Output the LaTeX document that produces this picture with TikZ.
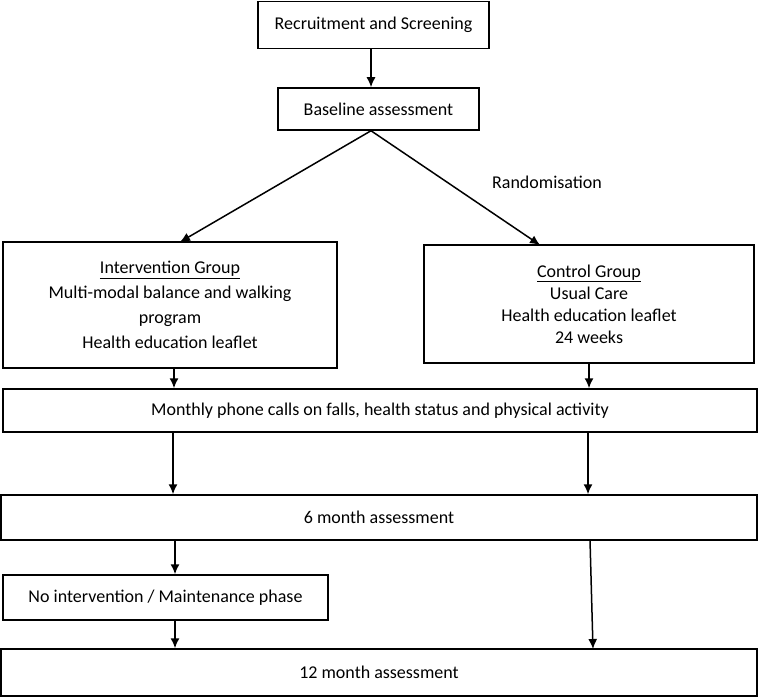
\documentclass[tikz,border=0pt]{standalone}
\usepackage{fontspec}
\setmainfont{Carlito}
\usepackage{tikz}
\usetikzlibrary{arrows.meta}

\tikzset{
	box/.style={draw, line width=1.5pt, rectangle, inner sep=0pt, align=center, font=\fontsize{18}{22}\selectfont},
	flow/.style={-{Latex[length=10pt,width=9pt]}, line width=1.5pt},
	lbl/.style={inner sep=0pt, font=\fontsize{18}{22}\selectfont}
}

\begin{document}
\begin{tikzpicture}[x=1pt, y=-1pt]
	\useasboundingbox (0,0) rectangle (759,698);
	% boxes
	\node[box, minimum width=231, minimum height=47] (recruit) at (373.5,25) {Recruitment and Screening};
	\node[box, minimum width=201, minimum height=42] (base) at (378.5,109) {Baseline assessment};
	\node[box, minimum width=334, minimum height=126] (interv) at (170,305) {\underline{Intervention Group}\\[3pt] Multi-modal balance and walking\\[3pt] program\\[3pt] Health education leaflet};
	\node[box, minimum width=330, minimum height=118] (ctrl) at (589,304) {\underline{Control Group}\\ Usual Care\\ Health education leaflet\\ 24 weeks};
	\node[box, minimum width=754, minimum height=43] (monthly) at (380,410.5) {Monthly phone calls on falls, health status and physical activity};
	\node[box, minimum width=756, minimum height=45] (six) at (379,517.5) {6 month assessment};
	\node[box, minimum width=325, minimum height=45] (noint) at (165.5,597.5) {No intervention / Maintenance phase};
	\node[box, minimum width=756, minimum height=47] (twelve) at (379,672.5) {12 month assessment};
	\node[lbl] (rand) at (547,182) {Randomisation};
	% arrow ends
	\coordinate (intin) at (180,242);
	\coordinate (ctrlin) at (540,245);
	\coordinate (sixout) at (590,540);
	\coordinate (twin) at (593,649);
	% arrows
	\draw[flow] (recruit.south -| 371,0) -- (base.north -| 371,0);
	\draw[flow] (base.south -| 371,0) -- (intin);
	\draw[flow] (base.south -| 371,0) -- (ctrlin);
	\draw[flow] (interv.south -| 174,0) -- (monthly.north -| 174,0);
	\draw[flow] (ctrl.south) -- (ctrl.south |- monthly.north);
	\draw[flow] (monthly.south -| 173,0) -- (six.north -| 173,0);
	\draw[flow] (monthly.south -| 588,0) -- (six.north -| 588,0);
	\draw[flow] (six.south -| 175,0) -- (noint.north -| 175,0);
	\draw[flow] (sixout) -- (twin);
	\draw[flow] (noint.south -| 175,0) -- (twelve.north -| 175,0);
\end{tikzpicture}
\end{document}
